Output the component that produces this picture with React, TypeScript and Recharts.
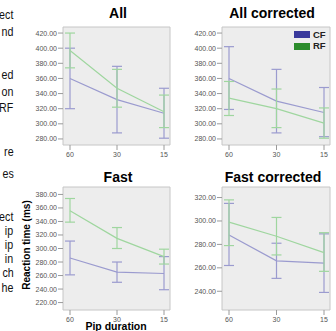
import React from "react";
import { LineChart, Line, XAxis, YAxis, CartesianGrid, ErrorBar } from "recharts";

// ---------- data ----------
const pipDurations = ["60", "30", "15"];
const seriesNames = ["CF", "RF"];

// All
const allCfMean = [360, 332, 314];
const allCfLow = [320, 288, 281];
const allCfHigh = [400, 376, 347];
const allRfMean = [397, 347, 316];
const allRfLow = [374, 322, 295];
const allRfHigh = [420, 372, 338];

// All corrected
const allCorrCfMean = [360, 330, 315];
const allCorrCfLow = [319, 288, 283];
const allCorrCfHigh = [402, 372, 348];
const allCorrRfMean = [334, 320, 301];
const allCorrRfLow = [311, 295, 281];
const allCorrRfHigh = [356, 346, 321];

// Fast
const fastCfMean = [286, 265, 263];
const fastCfLow = [261, 250, 239];
const fastCfHigh = [311, 280, 288];
const fastRfMean = [356, 315, 288];
const fastRfLow = [339, 300, 277];
const fastRfHigh = [374, 331, 299];

// Fast corrected
const fastCorrCfMean = [288, 266, 264];
const fastCorrCfLow = [262, 251, 239];
const fastCorrCfHigh = [315, 281, 289];
const fastCorrRfMean = [299, 287, 273];
const fastCorrRfLow = [279, 271, 257];
const fastCorrRfHigh = [318, 303, 290];

const allTicks = [280, 300, 320, 340, 360, 380, 400, 420];
const fastTicks = [220, 240, 260, 280, 300, 320, 340, 360, 380];
const fastCorrTicks = [240, 260, 280, 300, 320];

const panelTitles = ["All", "All corrected", "Fast", "Fast corrected"];
const yAxisTitle = "Reaction time (ms)";
const xAxisTitle = "Pip duration";

// fragments of the surrounding paragraph, visible at the left edge
const paragraphFragments = [
  "ect", "nd", "ed", "on", "RF", "re", "es",
  "ect", "ip", "ip", "in", "ch", "he",
];
const paragraphCenters = [15, 32, 75, 92, 108, 152, 174, 217, 231, 245, 259, 273, 288];

// ---------- styling ----------
const FONT = "'Liberation Sans', Arial, Helvetica, sans-serif";
const CF_LINE = "#9b9bcf";
const RF_LINE = "#9fd69f";
const CF_SWATCH = "#3a3a9c";
const RF_SWATCH = "#2c8c2c";

function buildRows(
  cfMean: number[], cfLow: number[], cfHigh: number[],
  rfMean: number[], rfLow: number[], rfHigh: number[]
) {
  return pipDurations.map((p, i) => ({
    pip: p,
    cf: cfMean[i],
    cfErr: [cfMean[i] - cfLow[i], cfHigh[i] - cfMean[i]],
    rf: rfMean[i],
    rfErr: [rfMean[i] - rfLow[i], rfHigh[i] - rfMean[i]],
  }));
}

const allRows = buildRows(allCfMean, allCfLow, allCfHigh, allRfMean, allRfLow, allRfHigh);
const allCorrRows = buildRows(allCorrCfMean, allCorrCfLow, allCorrCfHigh, allCorrRfMean, allCorrRfLow, allCorrRfHigh);
const fastRows = buildRows(fastCfMean, fastCfLow, fastCfHigh, fastRfMean, fastRfLow, fastRfHigh);
const fastCorrRows = buildRows(fastCorrCfMean, fastCorrCfLow, fastCorrCfHigh, fastCorrRfMean, fastCorrRfLow, fastCorrRfHigh);

type Rect = { x: number; y: number; w: number; h: number };

function Panel({ rows, plot, domain, ticks }: { rows: any[]; plot: Rect; domain: [number, number]; ticks: number[] }) {
  const yW = 40;
  const xH = 20;
  const mTop = 2;
  const mRight = 3;
  return (
    <div style={{ position: "absolute", left: plot.x - yW, top: plot.y - mTop }}>
      <LineChart
        width={yW + plot.w + mRight}
        height={mTop + plot.h + xH}
        data={rows}
        margin={{ top: mTop, right: mRight, left: 0, bottom: 0 }}
      >
        <CartesianGrid
          fill="#ededed"
          stroke="#c6c6c6"
          horizontalCoordinatesGenerator={(p: any) => [p.offset.top, p.offset.top + p.offset.height]}
          verticalCoordinatesGenerator={(p: any) => [p.offset.left, p.offset.left + p.offset.width]}
        />
        <XAxis
          dataKey="pip"
          scale="point"
          padding={{ left: 7, right: 6 }}
          height={xH}
          tickSize={5}
          tickMargin={2}
          interval={0}
          axisLine={false}
          tickLine={{ stroke: "#9a9a9a" }}
          tick={{ fontSize: 7, fill: "#555", fontFamily: FONT }}
        />
        <YAxis
          type="number"
          width={yW}
          domain={domain}
          ticks={ticks}
          allowDataOverflow
          interval={0}
          tickFormatter={(v: number) => v.toFixed(2)}
          tickSize={5}
          tickMargin={1}
          axisLine={false}
          tickLine={{ stroke: "#9a9a9a" }}
          tick={{ fontSize: 7, fill: "#555", fontFamily: FONT }}
        />
        <Line
          dataKey="cf"
          name={seriesNames[0]}
          type="linear"
          stroke={CF_LINE}
          strokeWidth={1.2}
          dot={false}
          activeDot={false}
          isAnimationActive={false}
        >
          <ErrorBar dataKey="cfErr" direction="y" width={5} stroke={CF_LINE} strokeWidth={1.2} isAnimationActive={false} />
        </Line>
        <Line
          dataKey="rf"
          name={seriesNames[1]}
          type="linear"
          stroke={RF_LINE}
          strokeWidth={1.2}
          dot={false}
          activeDot={false}
          isAnimationActive={false}
        >
          <ErrorBar dataKey="rfErr" direction="y" width={5} stroke={RF_LINE} strokeWidth={1.2} isAnimationActive={false} />
        </Line>
      </LineChart>
    </div>
  );
}

function Title({ text, cx, top }: { text: string; cx: number; top: number }) {
  return (
    <div
      style={{
        position: "absolute",
        left: cx - 80,
        width: 160,
        top,
        textAlign: "center",
        fontFamily: FONT,
        fontWeight: "bold",
        fontSize: 14,
        lineHeight: "14px",
        color: "#000",
        whiteSpace: "nowrap",
      }}
    >
      {text}
    </div>
  );
}

export default function App() {
  const legendColors = [CF_SWATCH, RF_SWATCH];
  return (
    <div
      style={{
        position: "absolute",
        left: 0,
        top: 0,
        width: 336,
        height: 331,
        overflow: "hidden",
        background: "#fff",
        fontFamily: FONT,
      }}
    >
      {paragraphFragments.map((t, i) => (
        <div
          key={i}
          style={{
            position: "absolute",
            right: 336 - 13.5,
            top: paragraphCenters[i] - 6.3,
            fontSize: 13,
            lineHeight: "11px",
            whiteSpace: "nowrap",
            color: "#111",
            fontFamily: FONT,
            transform: "scaleX(0.82)",
            transformOrigin: "right center",
          }}
        >
          {t}
        </div>
      ))}

      <Panel rows={allRows} plot={{ x: 63, y: 27, w: 107, h: 118 }} domain={[272, 428]} ticks={allTicks} />
      <Panel rows={allCorrRows} plot={{ x: 222, y: 27, w: 108, h: 118 }} domain={[272, 428]} ticks={allTicks} />
      <Panel rows={fastRows} plot={{ x: 63, y: 187, w: 107, h: 123 }} domain={[209, 391]} ticks={fastTicks} />
      <Panel rows={fastCorrRows} plot={{ x: 222, y: 187, w: 108, h: 123 }} domain={[224, 329]} ticks={fastCorrTicks} />

      <Title text={panelTitles[0]} cx={118} top={6} />
      <Title text={panelTitles[1]} cx={272} top={6} />
      <Title text={panelTitles[2]} cx={118} top={170} />
      <Title text={panelTitles[3]} cx={273} top={170} />

      {seriesNames.map((s, i) => (
        <React.Fragment key={s}>
          <div
            style={{
              position: "absolute",
              left: 294,
              top: 31 + i * 11.5,
              width: 16,
              height: 7,
              background: legendColors[i],
            }}
          />
          <div
            style={{
              position: "absolute",
              left: 313,
              top: 29.5 + i * 11.5,
              fontSize: 9.5,
              lineHeight: "10px",
              fontWeight: "bold",
              color: "#222",
              fontFamily: FONT,
            }}
          >
            {s}
          </div>
        </React.Fragment>
      ))}

      <div
        style={{
          position: "absolute",
          left: 27 - 50,
          top: 245 - 6,
          width: 100,
          height: 12,
          lineHeight: "12px",
          textAlign: "center",
          transform: "rotate(-90deg)",
          fontSize: 10,
          fontWeight: "bold",
          whiteSpace: "nowrap",
          color: "#000",
          fontFamily: FONT,
        }}
      >
        {yAxisTitle}
      </div>
      <div
        style={{
          position: "absolute",
          left: 116 - 40,
          top: 321,
          width: 80,
          textAlign: "center",
          fontSize: 10.5,
          lineHeight: "10px",
          fontWeight: "bold",
          whiteSpace: "nowrap",
          color: "#000",
          fontFamily: FONT,
        }}
      >
        {xAxisTitle}
      </div>
    </div>
  );
}
